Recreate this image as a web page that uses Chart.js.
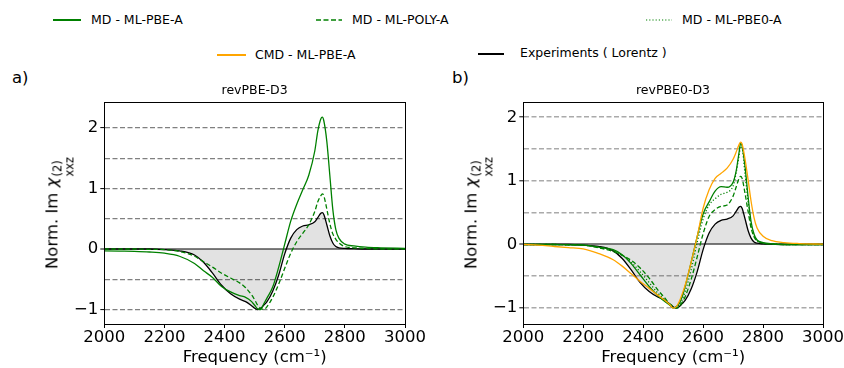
<!DOCTYPE html>
<html><head><meta charset="utf-8">
<script src="https://cdn.jsdelivr.net/npm/chart.js@4.4.1/dist/chart.umd.min.js"></script>
<style>
html,body{margin:0;padding:0;background:#fff;}
#wrap{position:relative;width:844px;height:368px;overflow:hidden;font-family:"DejaVu Sans",sans-serif;color:#000;}
canvas{position:absolute;}
.t{position:absolute;white-space:nowrap;line-height:16px;height:16px;}
.lg{font-size:12.5px;}
.ttl{font-size:12.5px;transform:translateX(-50%);}
.pl{font-size:16.5px;line-height:20px;height:20px;}
.ylab{position:absolute;white-space:nowrap;font-size:16.5px;transform:translate(-50%,-50%) rotate(-90deg);}
.ss{display:inline-flex;flex-direction:column;font-size:0.7em;line-height:1;vertical-align:-0.35em;margin-left:1px;}
svg{position:absolute;overflow:visible;}
</style></head><body>
<div id="wrap">
  <canvas id="c1" width="430" height="273" style="left:0;top:95px"></canvas>
  <canvas id="c2" width="424" height="273" style="left:420px;top:95px"></canvas>

  <svg width="30" height="4" style="left:53px;top:18px"><line x1="0" y1="2" x2="28" y2="2" stroke="#008000" stroke-width="2"/></svg>
  <div class="t lg" style="left:91px;top:12px">MD - ML-PBE-A</div>
  <svg width="30" height="4" style="left:316px;top:18px"><line x1="0" y1="2" x2="26" y2="2" stroke="#008000" stroke-width="1.5" stroke-dasharray="5,2.5"/></svg>
  <div class="t lg" style="left:352px;top:12px">MD - ML-POLY-A</div>
  <svg width="30" height="4" style="left:646px;top:18px"><line x1="0" y1="2" x2="26" y2="2" stroke="#008000" stroke-width="1.2" stroke-dasharray="1.2,2"/></svg>
  <div class="t lg" style="left:682px;top:12px">MD - ML-PBE0-A</div>
  <svg width="30" height="4" style="left:217px;top:53px"><line x1="0" y1="2" x2="29" y2="2" stroke="#FFA500" stroke-width="2"/></svg>
  <div class="t lg" style="left:255px;top:47px">CMD - ML-PBE-A</div>
  <svg width="30" height="4" style="left:478px;top:51.5px"><line x1="0" y1="2" x2="26" y2="2" stroke="#000" stroke-width="2"/></svg>
  <div class="t lg" style="left:520px;top:45px">Experiments ( Lorentz )</div>

  <div class="t pl" style="left:12px;top:68px">a)</div>
  <div class="t pl" style="left:452px;top:68px">b)</div>
  <div class="t ttl" style="left:254.6px;top:82px">revPBE-D3</div>
  <div class="t ttl" style="left:673px;top:82px">revPBE0-D3</div>

  <div class="ylab" style="left:59px;top:213px">Norm. Im <i>χ</i><span class="ss"><span>(2)</span><span>xxz</span></span></div>
  <div class="ylab" style="left:478px;top:213px">Norm. Im <i>χ</i><span class="ss"><span>(2)</span><span>xxz</span></span></div>
</div>
<script>
const FREQ = [2000,2050,2100,2150,2200,2250,2300,2330,2360,2390,2420,2450,2470,2490,2500,2510,2520,2530,2540,2560,2580,2600,2620,2640,2660,2680,2700,2710,2720,2725,2730,2740,2750,2760,2770,2780,2800,2830,2870,2920,3000];
const EXP = [0,0,0,0,-0.01, -0.03,-0.10,-0.22,-0.40,-0.60, -0.74,-0.83,-0.87,-0.94,-0.98, -1.0,-0.98,-0.93,-0.88,-0.70, -0.43,-0.08,0.18,0.32,0.38, 0.40,0.45,0.52,0.59,0.60, 0.57,0.40,0.22,0.10,0.04, 0.02,0.01,0.005,0,0, 0];
const L_PBE = [-0.03,-0.035,-0.04,-0.05,-0.07, -0.12,-0.24,-0.36,-0.47,-0.62, -0.71,-0.77,-0.80,-0.87,-0.93, -0.99,-1.0,-0.91,-0.82,-0.63, -0.30,0.08,0.46,0.74,0.98, 1.22,1.62,1.95,2.15,2.18, 2.12,1.78,1.22,0.65,0.32, 0.18,0.08,0.05,0.03,0.02, 0.01];
const L_POLY = [0,0,0,-0.005,-0.01, -0.04,-0.12,-0.21,-0.30,-0.40, -0.48,-0.56,-0.64,-0.76,-0.84, -0.93,-0.98,-1.0,-0.96,-0.80, -0.58,-0.32,-0.07,0.12,0.26, 0.40,0.62,0.78,0.88,0.91, 0.88,0.66,0.42,0.25,0.16, 0.10,0.04,0.02,0.01,0, 0];
const R_PBE = [0,0,0,-0.005,-0.01, -0.04,-0.08,-0.16,-0.30,-0.48, -0.66,-0.81,-0.89,-0.96,-1.0, -0.98,-0.93,-0.82,-0.66,-0.28, 0.12,0.48,0.67,0.84,0.91, 0.90,0.98,1.15,1.45,1.59, 1.55,1.22,0.75,0.36,0.16, 0.07,0.03,0.01,0,0, 0];
const R_POLY = [0,0,0,-0.005,-0.01, -0.05,-0.11,-0.17,-0.25,-0.37, -0.53,-0.72,-0.83,-0.94,-0.97, -1.0,-0.98,-0.91,-0.82,-0.55, -0.20,0.17,0.44,0.55,0.60, 0.62,0.76,0.90,1.04,1.07, 1.04,0.80,0.52,0.26,0.12, 0.06,0.02,0.01,0,0, 0];
const R_PBE0 = [0,0,0,-0.005,-0.01, -0.045,-0.10,-0.17,-0.28,-0.43, -0.60,-0.77,-0.86,-0.95,-0.99, -0.99,-0.95,-0.87,-0.74,-0.40, 0.03,0.40,0.62,0.72,0.79, 0.82,0.92,1.12,1.40,1.54, 1.52,1.10,0.68,0.30,0.13, 0.06,0.02,0.01,0,0, 0];
const R_CMD = [0,-0.01,-0.03,-0.05,-0.07, -0.14,-0.24,-0.34,-0.46,-0.58, -0.69,-0.80,-0.87,-0.95,-1.0, -0.98,-0.90,-0.78,-0.64,-0.28, 0.12,0.57,0.86,1.04,1.12, 1.20,1.34,1.45,1.57,1.61, 1.58,1.34,1.02,0.68,0.42, 0.26,0.13,0.06,0.03,0.015, 0.005];
const X_TICKS = [2000,2200,2400,2600,2800,3000];
const Y_LABELS = [-1,0,1,2];

const GREEN = '#008000', ORANGE = '#FFA500';
const pts = arr => FREQ.map((f,i)=>({x:f,y:arr[i]}));
function line(arr, color, dash, w){
  return {data:pts(arr), borderColor:color, borderWidth:w||1.3, borderDash:dash||[], pointRadius:0, fill:false, cubicInterpolationMode:'monotone'};
}
function expSet(){
  return {data:pts(EXP), borderColor:'#000', borderWidth:1.3, pointRadius:0, fill:'origin', backgroundColor:'rgba(0,0,0,0.115)', cubicInterpolationMode:'monotone'};
}
const boxPlugin = {id:'box', afterDraw(chart){
  const {ctx, chartArea:a} = chart;
  ctx.save(); ctx.strokeStyle='#000'; ctx.lineWidth=1;
  ctx.strokeRect(Math.round(a.left)+0.5, Math.round(a.top)+0.5, Math.round(a.right)-Math.round(a.left), Math.round(a.bottom)-Math.round(a.top));
  ctx.restore();
}};
const isInt = v => Math.abs(v-Math.round(v))<1e-9;
const fmt = v => { const r=Math.round(v); return r<0 ? '\u2212'+Math.abs(r) : String(r); };

function makeChart(id, datasets, ymin, ymax, yw, padRight, gridColor, gridW){
  return new Chart(document.getElementById(id), {
    type:'line',
    data:{datasets},
    options:{
      responsive:false, animation:false, devicePixelRatio:1,
      layout:{padding:{top:7,right:padRight,left:0,bottom:0}},
      plugins:{legend:{display:false}, tooltip:{enabled:false}, filler:{propagate:false, drawTime:'beforeDatasetsDraw'}},
      scales:{
        x:{type:'linear', min:2000, max:3000,
          afterBuildTicks: s => { s.ticks = X_TICKS.map(v=>({value:v})); },
          afterFit: s => { s.height = 44; },
          grid:{drawOnChartArea:false, drawTicks:true, tickLength:4, tickColor:'#000', tickWidth:1},
          border:{display:true, color:'#000', width:1},
          ticks:{color:'#000', font:{family:'DejaVu Sans', size:16.5}, padding:0, maxRotation:0, autoSkip:false,
            callback: v => String(Math.round(v))},
          title:{display:true, text:'Frequency (cm\u207B\u00B9)', color:'#000', font:{family:'DejaVu Sans', size:16.5}, padding:{top:0,bottom:0}}
        },
        y:{type:'linear', min:ymin, max:ymax,
          afterFit: s => { s.width = yw; s.paddingTop = 0; s.paddingBottom = 0; },
          ticks:{stepSize:0.5, includeBounds:false, color:'#000', font:{family:'DejaVu Sans', size:16.5}, padding:2,
            callback: v => (isInt(v) && Y_LABELS.includes(Math.round(v))) ? fmt(v) : ''},
          grid:{drawTicks:true, tickLength:4, tickWidth:1,
            tickColor: c => (c.tick && isInt(c.tick.value)) ? '#000' : 'rgba(0,0,0,0)',
            color: c => (c.tick && Math.abs(c.tick.value)<1e-9) ? '#808080' : gridColor,
            lineWidth: c => (c.tick && Math.abs(c.tick.value)<1e-9) ? 2 : gridW},
          border:{display:true, color:'#000', width:1,
            dash: c => (c.tick && Math.abs(c.tick.value)<1e-9) ? [] : [5,2.5]}
        }
      }
    },
    plugins:[boxPlugin]
  });
}

makeChart('c1', [
  line(L_PBE, GREEN),
  line(L_POLY, GREEN, [4.5,2.5]),
  expSet()
], -1.24, 2.43, 104.3, 25, '#808080', 1.2);

makeChart('c2', [
  line(R_CMD, ORANGE),
  line(R_PBE, GREEN),
  line(R_POLY, GREEN, [4.5,2.5]),
  line(R_PBE0, GREEN, [1.2,2]),
  expSet()
], -1.25, 2.24, 103.3, 21, '#aaaaaa', 1.6);
</script>
</body></html>
